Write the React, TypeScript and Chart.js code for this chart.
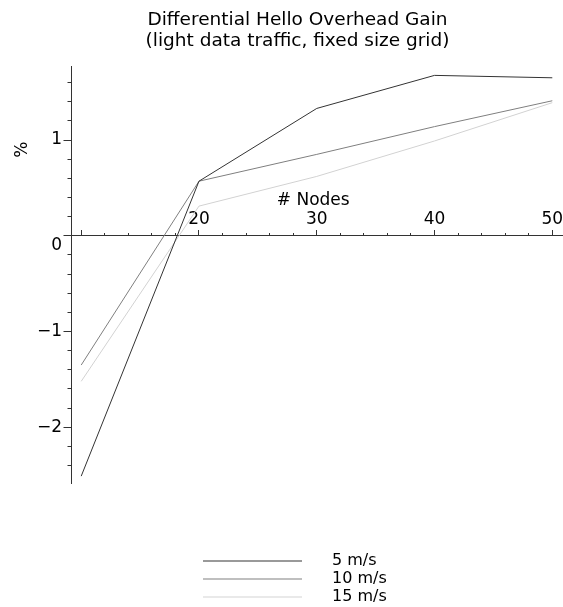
import React, { useEffect, useRef } from 'react';
import { Chart, registerables } from 'chart.js';

Chart.register(...registerables);

// ---- data ----
const nodes = [10, 20, 30, 40, 50];
const speed5 = [-2.51, 0.57, 1.33, 1.675, 1.65];
const speed10 = [-1.35, 0.57, 0.85, 1.14, 1.41];
const speed15 = [-1.52, 0.31, 0.62, 0.99, 1.39];
const seriesNames = ['5 m/s', '10 m/s', '15 m/s'];
const seriesColors = ['#333333', '#7f7f7f', '#d2d2d2'];

// ---- ticks / text ----
const xMajorTicks = [10, 20, 30, 40, 50];
const xTickLabels = ['', '20', '30', '40', '50'];
const yMajorTicks = [-2, -1, 0, 1];
const yTickLabels: (string | string[])[] = ['\u22122', '\u22121', ['', '0'], '1'];
const titleLines = ['Differential Hello Overhead Gain', '(light data traffic, fixed size grid)'];
const xTitle = '# Nodes';
const yTitle = '%';

const X_MIN = 9.176;
const X_MAX = 50.908;
const Y_MIN = -2.59;
const Y_MAX = 1.765;
const FONT = "'DejaVu Sans', 'Liberation Sans', sans-serif";

function makeLegendLine(color: string): HTMLCanvasElement {
  const c = document.createElement('canvas');
  c.width = 290;
  c.height = 3;
  const g = c.getContext('2d')!;
  g.fillStyle = color;
  g.fillRect(169, 1, 99, 1);
  return c;
}

const axisTitles = {
  id: 'axisTitles',
  afterDraw(chart: any) {
    const { ctx, scales, chartArea } = chart;
    const x = scales.x;
    const y = scales.y;
    ctx.save();
    ctx.fillStyle = '#000';
    ctx.font = `17px ${FONT}`;
    ctx.textAlign = 'center';
    ctx.textBaseline = 'middle';
    ctx.fillText(xTitle, x.getPixelForValue(29.7), y.getPixelForValue(0) - 35.5);
    ctx.translate(chartArea.left - 49, y.getPixelForValue(0.9));
    ctx.rotate(-Math.PI / 2);
    ctx.fillText(yTitle, 0, 0);
    ctx.restore();
  },
};

export default function App() {
  const ref = useRef<HTMLCanvasElement>(null);

  useEffect(() => {
    if (!ref.current) return;
    const legendImages = seriesColors.map(makeLegendLine);
    const seriesValues = [speed5, speed10, speed15];
    const chart = new Chart(ref.current, {
      type: 'line',
      data: {
        datasets: seriesValues.map((vals, i) => ({
          label: seriesNames[i],
          data: nodes.map((n, j) => ({ x: n, y: vals[j] })),
          borderColor: seriesColors[i],
          backgroundColor: seriesColors[i],
          borderWidth: 1,
          pointRadius: 0,
          pointHoverRadius: 0,
          tension: 0,
          fill: false,
          xAxisID: 'x',
          yAxisID: 'y',
        })),
      },
      options: {
        animation: false,
        responsive: false,
        events: [],
        layout: { padding: { left: 32, right: 0, top: 0, bottom: -8 } },
        scales: {
          x: {
            type: 'linear',
            axis: 'x',
            position: { y: 0 } as any,
            min: X_MIN,
            max: X_MAX,
            afterBuildTicks: (s: any) => {
              s.ticks = xMajorTicks.map((v) => ({ value: v }));
            },
            ticks: {
              autoSkip: false,
              maxRotation: 0,
              padding: -20.4,
              color: '#000',
              font: { family: FONT, size: 17 },
              callback: (v: any) => {
                const i = xMajorTicks.indexOf(Number(v));
                return i >= 0 ? xTickLabels[i] : '';
              },
            },
            grid: { drawOnChartArea: false, drawTicks: true, tickLength: -6, color: '#333' },
            border: { display: true, color: '#333', width: 1 },
          },
          y: {
            type: 'linear',
            axis: 'y',
            position: 'left',
            min: Y_MIN,
            max: Y_MAX,
            afterFit: (s: any) => {
              s.width = 39.5;
            },
            afterBuildTicks: (s: any) => {
              s.ticks = yMajorTicks.map((v) => ({ value: v }));
            },
            ticks: {
              autoSkip: false,
              padding: 1.5,
              color: '#000',
              font: { family: FONT, size: 17 },
              callback: (v: any) => {
                const i = yMajorTicks.indexOf(Number(v));
                return i >= 0 ? yTickLabels[i] : '';
              },
            },
            grid: { drawOnChartArea: false, drawTicks: true, tickLength: 8, color: '#333' },
            border: { display: true, color: '#333', width: 1 },
          },
          x2: {
            type: 'linear',
            axis: 'x',
            position: { y: 0 } as any,
            min: X_MIN,
            max: X_MAX,
            ticks: { display: false, stepSize: 2, includeBounds: false },
            grid: { drawOnChartArea: false, drawTicks: true, tickLength: -3, color: '#333' },
            border: { display: false },
          },
          y2: {
            type: 'linear',
            axis: 'y',
            position: { x: X_MIN } as any,
            min: Y_MIN,
            max: Y_MAX,
            ticks: { display: false, stepSize: 0.2, includeBounds: false },
            grid: { drawOnChartArea: false, drawTicks: true, tickLength: 4.5, color: '#333' },
            border: { display: false },
          },
        } as any,
        plugins: {
          title: {
            display: true,
            text: titleLines,
            color: '#000',
            font: { family: FONT, size: 18.5, weight: 'normal', lineHeight: 1.11 },
            padding: { top: 10.25, bottom: 15.45 },
          },
          legend: {
            display: true,
            position: 'bottom',
            align: 'start',
            title: {
              display: true,
              text: ' ',
              font: { size: 10, lineHeight: 1 },
              padding: { top: 57.2, bottom: 0 },
            },
            labels: {
              usePointStyle: true,
              pointStyleWidth: 290,
              padding: 2,
              color: '#000',
              font: { family: FONT, size: 16 },
              generateLabels: (c: any) => {
                const items = (Chart.defaults.plugins.legend.labels as any).generateLabels(c);
                return items.map((it: any, i: number) => ({ ...it, pointStyle: legendImages[i] }));
              },
            },
          },
          tooltip: { enabled: false },
        },
      } as any,
      plugins: [axisTitles],
    });
    return () => chart.destroy();
  }, []);

  return (
    <div style={{ position: 'absolute', left: 0, top: 0, width: 563, height: 607, background: '#fff' }}>
      <canvas ref={ref} width={563} height={607} style={{ display: 'block' }} />
    </div>
  );
}
